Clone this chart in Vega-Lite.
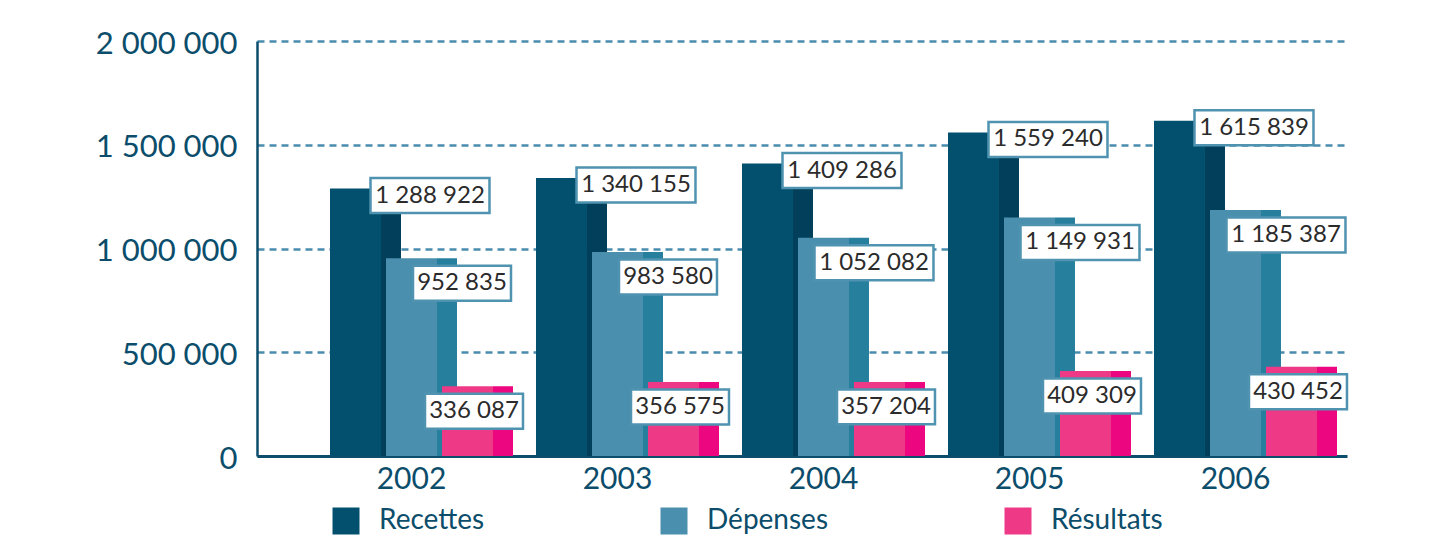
{
  "$schema": "https://vega.github.io/schema/vega-lite/v6.json",
  "width": 1090,
  "height": 415,
  "autosize": {"type": "none"},
  "padding": {"left": 257, "top": 41, "right": 89, "bottom": 91},
  "background": "white",
  "config": {
    "locale": {"number": {"decimal": ",", "thousands": " ", "grouping": [3], "currency": ["", " €"]}},
    "view": {"stroke": null},
    "font": "Lato",
    "axis": {"title": null, "labelFont": "Lato", "labelColor": "#0c4d6b", "labelFontSize": 30, "domainColor": "#0c4d6b", "ticks": false}
  },
  "data": {
    "values": [
      {"year": "2002", "series": "Recettes", "value": 1288922},
      {"year": "2002", "series": "Dépenses", "value": 952835},
      {"year": "2002", "series": "Résultats", "value": 336087},
      {"year": "2003", "series": "Recettes", "value": 1340155},
      {"year": "2003", "series": "Dépenses", "value": 983580},
      {"year": "2003", "series": "Résultats", "value": 356575},
      {"year": "2004", "series": "Recettes", "value": 1409286},
      {"year": "2004", "series": "Dépenses", "value": 1052082},
      {"year": "2004", "series": "Résultats", "value": 357204},
      {"year": "2005", "series": "Recettes", "value": 1559240},
      {"year": "2005", "series": "Dépenses", "value": 1149931},
      {"year": "2005", "series": "Résultats", "value": 409309},
      {"year": "2006", "series": "Recettes", "value": 1615839},
      {"year": "2006", "series": "Dépenses", "value": 1185387},
      {"year": "2006", "series": "Résultats", "value": 430452}
    ]
  },
  "encoding": {
    "x": {
      "field": "year", "type": "ordinal",
      "scale": {"paddingInner": 0.2087, "paddingOuter": 0.25, "align": 0.7087},
      "axis": {"labelAngle": 0, "labelPadding": 8, "domainWidth": 3, "grid": false}
    },
    "y": {
      "field": "value", "type": "quantitative",
      "scale": {"domain": [0, 2000000], "nice": false},
      "axis": {"values": [0, 500000, 1000000, 1500000, 2000000], "format": ",d", "labelFontSize": 31, "labelPadding": 20, "labelOffset": 3, "domainWidth": 2.5, "grid": true, "gridColor": "#4a8cad", "gridDash": [7, 5], "gridWidth": 2.5}
    }
  },
  "layer": [
    {
      "transform": [{"filter": "datum.series === 'Recettes'"}],
      "mark": {"type": "bar", "width": 20, "xOffset": -20.5, "fill": "#013f5a"}
    },
    {
      "transform": [{"filter": "datum.series === 'Dépenses'"}],
      "mark": {"type": "bar", "width": 20, "xOffset": 35.5, "fill": "#277f9e"}
    },
    {
      "transform": [{"filter": "datum.series === 'Résultats'"}],
      "mark": {"type": "bar", "width": 20, "xOffset": 91.5, "fill": "#ec067f"}
    },
    {
      "mark": {"type": "bar"},
      "encoding": {
        "xOffset": {
          "field": "series", "type": "nominal",
          "scale": {"domain": ["Recettes", "Dépenses", "Résultats"], "paddingInner": 0.0893, "paddingOuter": 0}
        },
        "color": {
          "field": "series", "type": "nominal",
          "scale": {"domain": ["Recettes", "Dépenses", "Résultats"], "range": ["#02506e", "#4a8fad", "#ee3a86"]},
          "legend": {"title": null, "orient": "none", "legendX": 75, "legendY": 466, "direction": "horizontal", "symbolType": "square", "symbolSize": 729, "symbolStrokeWidth": 0, "symbolOpacity": 1, "labelFont": "Lato", "labelFontSize": 28, "labelColor": "#0c4d6b", "labelOffset": 19, "columnPadding": 175, "padding": 0}
        }
      }
    },
    {
      "transform": [{"filter": "datum.series === 'Recettes'"}],
      "mark": {"type": "point", "filled": true, "fill": "white", "stroke": "#4f93b1", "strokeWidth": 2.5, "opacity": 1, "size": 3600, "xOffset": 18.5, "yOffset": 7},
      "encoding": {"shape": {"condition": {"test": "datum.value >= 1000000", "value": "M-1.983,-0.583L1.983,-0.583L1.983,0.583L-1.983,0.583Z"}, "value": "M-1.633,-0.583L1.633,-0.583L1.633,0.583L-1.633,0.583Z"}}
    },
    {
      "transform": [{"filter": "datum.series === 'Recettes'"}],
      "mark": {"type": "text", "font": "Lato", "fontSize": 24, "color": "#2b2b2b", "align": "center", "baseline": "middle", "xOffset": 18.5, "yOffset": 7},
      "encoding": {"text": {"field": "value", "type": "quantitative", "format": ",d"}}
    },
    {
      "transform": [{"filter": "datum.series === 'Dépenses'"}],
      "mark": {"type": "point", "filled": true, "fill": "white", "stroke": "#4f93b1", "strokeWidth": 2.5, "opacity": 1, "size": 3600, "xOffset": 50.5, "yOffset": 25},
      "encoding": {"shape": {"condition": {"test": "datum.value >= 1000000", "value": "M-1.983,-0.583L1.983,-0.583L1.983,0.583L-1.983,0.583Z"}, "value": "M-1.633,-0.583L1.633,-0.583L1.633,0.583L-1.633,0.583Z"}}
    },
    {
      "transform": [{"filter": "datum.series === 'Dépenses'"}],
      "mark": {"type": "text", "font": "Lato", "fontSize": 24, "color": "#2b2b2b", "align": "center", "baseline": "middle", "xOffset": 50.5, "yOffset": 25},
      "encoding": {"text": {"field": "value", "type": "quantitative", "format": ",d"}}
    },
    {
      "transform": [{"filter": "datum.series === 'Résultats'"}],
      "mark": {"type": "point", "filled": true, "fill": "white", "stroke": "#4f93b1", "strokeWidth": 2.5, "opacity": 1, "size": 3600, "xOffset": 62.5, "yOffset": 25},
      "encoding": {"shape": {"condition": {"test": "datum.value >= 1000000", "value": "M-1.983,-0.583L1.983,-0.583L1.983,0.583L-1.983,0.583Z"}, "value": "M-1.633,-0.583L1.633,-0.583L1.633,0.583L-1.633,0.583Z"}}
    },
    {
      "transform": [{"filter": "datum.series === 'Résultats'"}],
      "mark": {"type": "text", "font": "Lato", "fontSize": 24, "color": "#2b2b2b", "align": "center", "baseline": "middle", "xOffset": 62.5, "yOffset": 25},
      "encoding": {"text": {"field": "value", "type": "quantitative", "format": ",d"}}
    }
  ]
}
